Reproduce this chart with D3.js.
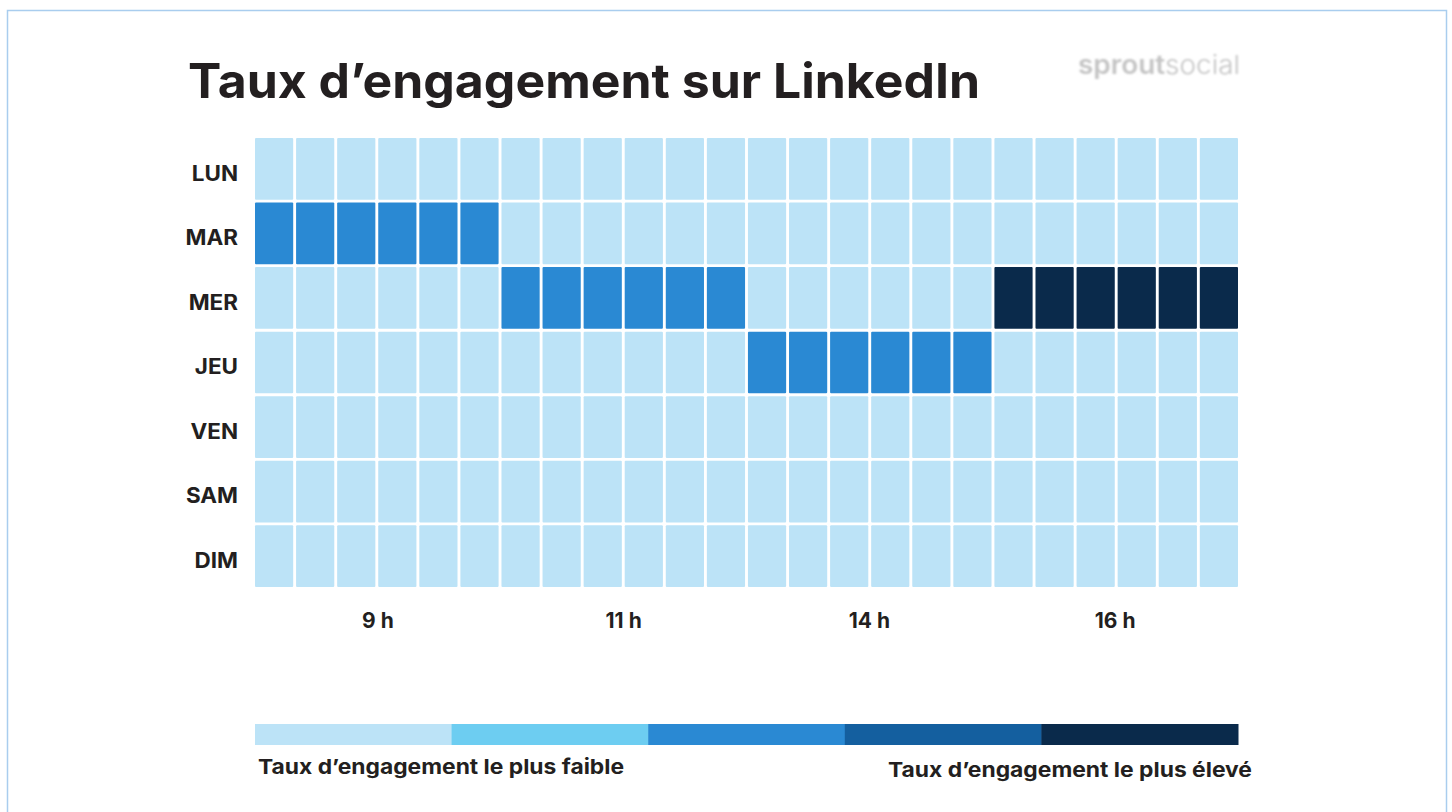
<!DOCTYPE html>
<html>
<head>
<meta charset="utf-8">
<script src="https://cdn.jsdelivr.net/npm/d3@7"></script>
<style>
  body { margin: 0; background: #fff; }
  svg { display: block; }
</style>
</head>
<body>
<div id="chart"></div>
<script>
// rows of the heatmap
const days = ["LUN", "MAR", "MER", "JEU", "VEN", "SAM", "DIM"];
// 24 time slots, 6 per hour label
const slots = d3.range(24);
const hourLabels = ["9 h", "11 h", "14 h", "16 h"];
// engagement level per day (0 = lowest, 4 = highest)
const lun = [0,0,0,0,0,0, 0,0,0,0,0,0, 0,0,0,0,0,0, 0,0,0,0,0,0];
const mar = [2,2,2,2,2,2, 0,0,0,0,0,0, 0,0,0,0,0,0, 0,0,0,0,0,0];
const mer = [0,0,0,0,0,0, 2,2,2,2,2,2, 0,0,0,0,0,0, 4,4,4,4,4,4];
const jeu = [0,0,0,0,0,0, 0,0,0,0,0,0, 2,2,2,2,2,2, 0,0,0,0,0,0];
const ven = [0,0,0,0,0,0, 0,0,0,0,0,0, 0,0,0,0,0,0, 0,0,0,0,0,0];
const sam = [0,0,0,0,0,0, 0,0,0,0,0,0, 0,0,0,0,0,0, 0,0,0,0,0,0];
const dim = [0,0,0,0,0,0, 0,0,0,0,0,0, 0,0,0,0,0,0, 0,0,0,0,0,0];
const levels = [0, 1, 2, 3, 4];
const legendLow = "Taux d’engagement le plus faible";
const legendHigh = "Taux d’engagement le plus élevé";

const rows = [lun, mar, mer, jeu, ven, sam, dim];
const cells = [];
rows.forEach((r, i) => r.forEach((v, j) => cells.push({ day: days[i], slot: j, value: v })));

const W = 1452, H = 812;
const font = "Inter, 'Open Sans', sans-serif";
const ink = "#231f20";
const levelColors = ["#bce3f7", "#6dcdf1", "#2a89d3", "#145f9f", "#0a2a4b"];

const svg = d3.select("#chart").append("svg")
    .attr("width", W).attr("height", H);

svg.append("defs").append("filter").attr("id", "soft")
    .append("feGaussianBlur").attr("stdDeviation", 0.9);

// outer frame
svg.append("rect")
    .attr("x", 7.5).attr("y", 10.5)
    .attr("width", 1439).attr("height", 820)
    .attr("fill", "none").attr("stroke", "#a9cdee").attr("stroke-width", 1.5);

// title
svg.append("text")
    .attr("x", 188).attr("y", 98)
    .attr("font-family", font).attr("font-weight", 700)
    .attr("font-size", 48).attr("fill", ink)
    .attr("textLength", 792).attr("lengthAdjust", "spacingAndGlyphs")
    .text("Taux d’engagement sur LinkedIn");

// logo
const logo = svg.append("text")
    .attr("x", 1240).attr("y", 74).attr("text-anchor", "end")
    .attr("font-family", font).attr("font-size", 26).attr("fill", "#c4c4c4")
    .attr("textLength", 162).attr("lengthAdjust", "spacingAndGlyphs")
    .attr("filter", "url(#soft)");
logo.append("tspan").attr("font-weight", 600).text("sprout");
logo.append("tspan").attr("font-weight", 300).text("social");

const x = d3.scaleBand().domain(slots).range([255, 1238]).paddingInner(0.07);
const y = d3.scaleBand().domain(days).range([138, 587]).paddingInner(0.045);
const color = d3.scaleOrdinal().domain(levels).range(levelColors);

svg.selectAll(".cell")
    .data(cells)
    .enter()
    .append("rect")
    .attr("class", "cell")
    .attr("x", d => x(d.slot))
    .attr("y", d => y(d.day))
    .attr("width", x.bandwidth())
    .attr("height", y.bandwidth())
    .attr("rx", 1)
    .attr("fill", d => color(d.value));

// day labels
svg.append("g")
    .attr("transform", "translate(238,5)")
    .call(d3.axisLeft(y).tickSize(0).tickPadding(0))
    .call(g => g.select(".domain").remove())
    .selectAll("text")
    .attr("font-family", font).attr("font-weight", 700)
    .attr("font-size", 21).attr("fill", ink)
    .attr("transform", "scale(1.07,1)");

// hour labels, centred on each group of 6 slots
const hx = d3.scaleBand().domain(hourLabels).range([255, 1238]);
svg.append("g")
    .attr("transform", "translate(0,613)")
    .call(d3.axisBottom(hx).tickSize(0).tickPadding(0))
    .call(g => g.select(".domain").remove())
    .selectAll("text")
    .attr("font-family", font).attr("font-weight", 700)
    .attr("font-size", 21).attr("fill", ink);

// legend
const lx = d3.scaleBand().domain(levels).range([255, 1238]);
svg.selectAll(".leg")
    .data(levels)
    .enter()
    .append("rect")
    .attr("class", "leg")
    .attr("x", d => lx(d))
    .attr("y", 724)
    .attr("width", lx.bandwidth() + 0.5)
    .attr("height", 21)
    .attr("fill", d => color(d));

svg.append("text")
    .attr("x", 258).attr("y", 774)
    .attr("font-family", font).attr("font-weight", 700)
    .attr("font-size", 20.5).attr("fill", ink)
    .attr("textLength", 366).attr("lengthAdjust", "spacingAndGlyphs")
    .text(legendLow);
svg.append("text")
    .attr("x", 888).attr("y", 777)
    .attr("font-family", font).attr("font-weight", 700)
    .attr("font-size", 20.5).attr("fill", ink)
    .attr("textLength", 364).attr("lengthAdjust", "spacingAndGlyphs")
    .text(legendHigh);
</script>
</body>
</html>
